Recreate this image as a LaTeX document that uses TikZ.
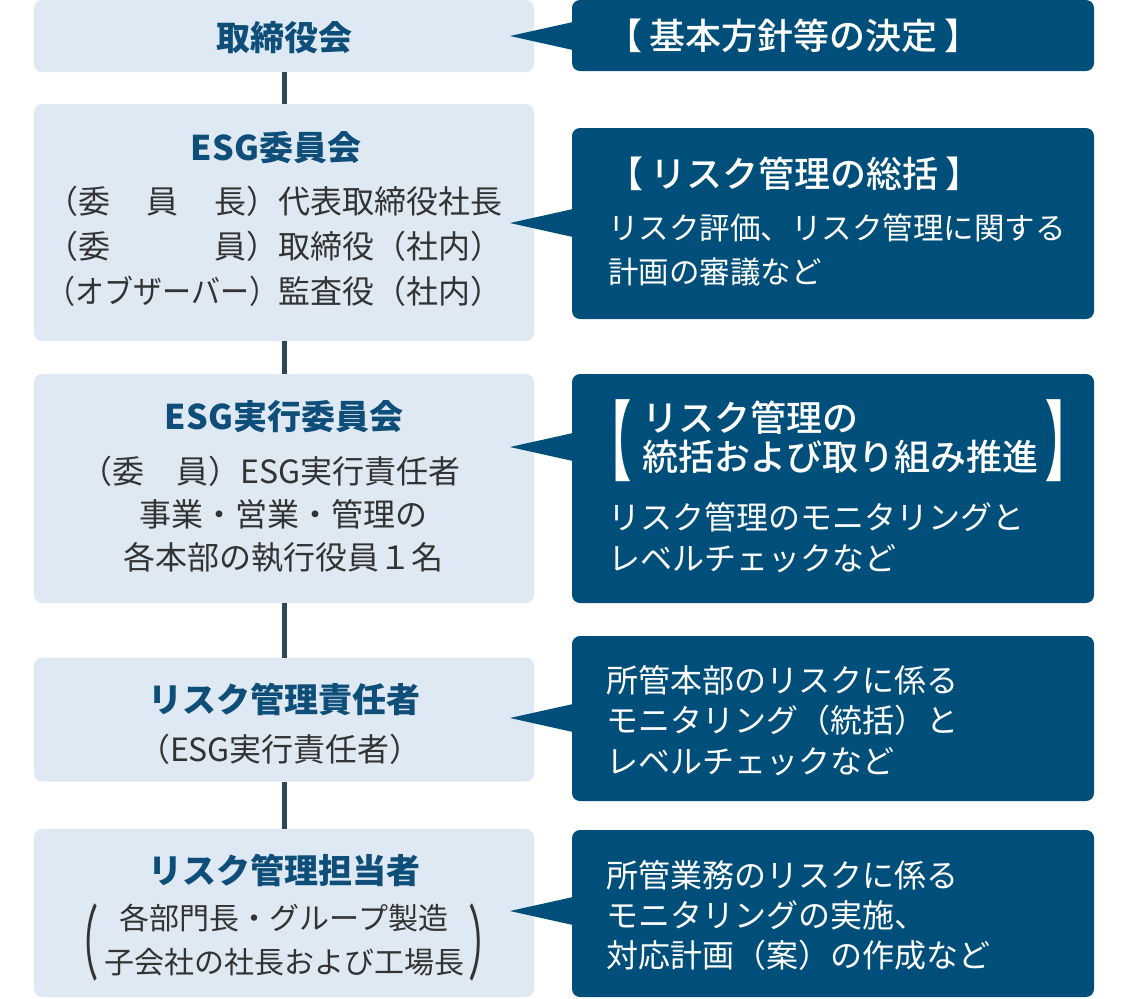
\documentclass[tikz,border=0pt]{standalone}
\usepackage{fontspec}
\setmainfont{Noto Sans CJK JP}
\IfFontExistsTF{Noto Sans CJK JP Medium}
  {\newfontfamily\medjp{Noto Sans CJK JP Medium}}
  {\newcommand\medjp{\bfseries}}
\usepackage{graphicx}

\definecolor{boxfill}{HTML}{DFE9F3}
\definecolor{navy}{HTML}{004F7A}
\definecolor{ttlblue}{HTML}{0E4E79}
\definecolor{bodygray}{HTML}{333333}
\definecolor{linkgray}{HTML}{2E4658}

\tikzset{
  leftbox/.style={fill=boxfill, rounded corners=4pt, inner sep=0pt, outer sep=0pt, minimum width=250pt},
  rightbox/.style={fill=navy, rounded corners=4pt, inner sep=0pt, outer sep=0pt, minimum width=261pt},
  ttl/.style={font=\fontsize{17}{22}\selectfont\bfseries, text=ttlblue, inner sep=0pt},
  txt/.style={font=\fontsize{16}{21.5}\selectfont, text=bodygray, inner sep=0pt},
  rttl/.style={font=\fontsize{18}{19.5}\selectfont\medjp, text=white, inner sep=0pt},
  rtxt/.style={font=\fontsize{16}{20.5}\selectfont, text=white, inner sep=0pt},
  pointer/.style={fill=navy},
  link/.style={draw=linkgray, line width=2.5pt}
}

\begin{document}
\begin{tikzpicture}[x=0.5pt,y=-0.5pt]
\useasboundingbox (0,0) rectangle (1134,998);
% left column
\node[leftbox, minimum height=36pt] (b1) at (284,36) {};
\node[leftbox, minimum height=118.5pt] (b2) at (284,222.5) {};
\node[leftbox, minimum height=114.5pt] (b3) at (284,488.5) {};
\node[leftbox, minimum height=62pt] (b4) at (284,719.5) {};
\node[leftbox, minimum height=84pt] (b5) at (284,913) {};
\draw[link] (b1) -- (b2);
\draw[link] (b2) -- (b3);
\draw[link] (b3) -- (b4);
\draw[link] (b4) -- (b5);
% right column
\node[rightbox, minimum height=35.5pt] (r1) at (833,35.5) {};
\node[rightbox, minimum height=95.5pt] (r2) at (833,223.5) {};
\node[rightbox, minimum height=114.5pt] (r3) at (833,488.5) {};
\node[rightbox, minimum height=82.5pt] (r4) at (833,718.5) {};
\node[rightbox, minimum height=83.5pt] (r5) at (833,913.5) {};
% pointers
\coordinate (p1) at (510,36);
\coordinate (p2) at (510,223);
\coordinate (p3) at (510,447);
\coordinate (p4) at (510,718);
\coordinate (p5) at (510,911);
\foreach \p in {p1,p2,p3,p4,p5}
  \fill[pointer] (\p) -- ++(63,-14) -- ++(0,28) -- cycle;
% left texts
\node[ttl] (t1) at (284,38) {取締役会};
\node[ttl] (t2) at (276,148) {ESG委員会};
\node[txt, anchor=west, align=left, font=\fontsize{16}{22.5}\selectfont] (d2) at (46,246)
  {\makebox[7.25em][s]{（委\hfill{}員\hfill{}長）}代表取締役社長\\
   \makebox[7.25em][s]{（委\hfill{}員）}取締役（社内）\\
   \makebox[7.25em][s]{\scalebox{0.906}[1]{（オブザーバー）}}監査役（社内）};
\node[ttl] (t3) at (284,417) {ESG実行委員会};
\node[txt, align=center] (d3) at (283,514)
  {（委　員）ESG実行責任者\hspace*{0.8em}\\事業・営業・管理の\\各本部の執行役員１名};
\node[ttl] (t4) at (284,699) {リスク管理責任者};
\node[txt] (d4) at (280,749) {（ESG実行責任者）};
\node[ttl] (t5) at (284,870) {リスク管理担当者};
\node[txt, align=center, font=\fontsize{15}{22}\selectfont] (d5) at (284,940)
  {各部門長・グループ製造\\子会社の社長および工場長};
\node[txt] (lp) at (80,942) {\scalebox{1.2}[2.55]{（}};
\node[txt] (rp) at (488,942) {\scalebox{1.2}[2.55]{）}};
% right texts
\node[rttl, anchor=west] (s1) at (606,36) {【\hspace{0.2em}基本方針等の決定\hspace{0.2em}】};
\node[rttl, anchor=west] (s2) at (607,174) {【\hspace{0.2em}リスク管理の総括\hspace{0.2em}】};
\node[rtxt, anchor=west, align=left, font=\fontsize{15.25}{22}\selectfont] (e2) at (608,250)
  {リスク評価、リスク管理に関する\\計画の審議など};
\node[rttl, anchor=west, align=left] (s3) at (642,437)
  {リスク管理の\\統括および取り組み推進};
\node[rttl, font=\fontsize{18}{19.5}\selectfont\bfseries] (lb) at (609,441) {\scalebox{1.25}[2.4]{【}};
\node[rttl, font=\fontsize{18}{19.5}\selectfont\bfseries] (rb) at (1068,441) {\scalebox{1.25}[2.4]{】}};
\node[rtxt, anchor=west, align=left] (e3) at (608,537.5)
  {リスク管理のモニタリングと\\レベルチェックなど};
\node[rtxt, anchor=west, align=left, font=\fontsize{16}{20.25}\selectfont] (e4) at (606,720.5)
  {所管本部のリスクに係る\\モニタリング（統括）と\\レベルチェックなど};
\node[rtxt, anchor=west, align=left, font=\fontsize{16}{20}\selectfont] (e5) at (606,915)
  {所管業務のリスクに係る\\モニタリングの実施、\\対応計画（案）の作成など};
\end{tikzpicture}
\end{document}
